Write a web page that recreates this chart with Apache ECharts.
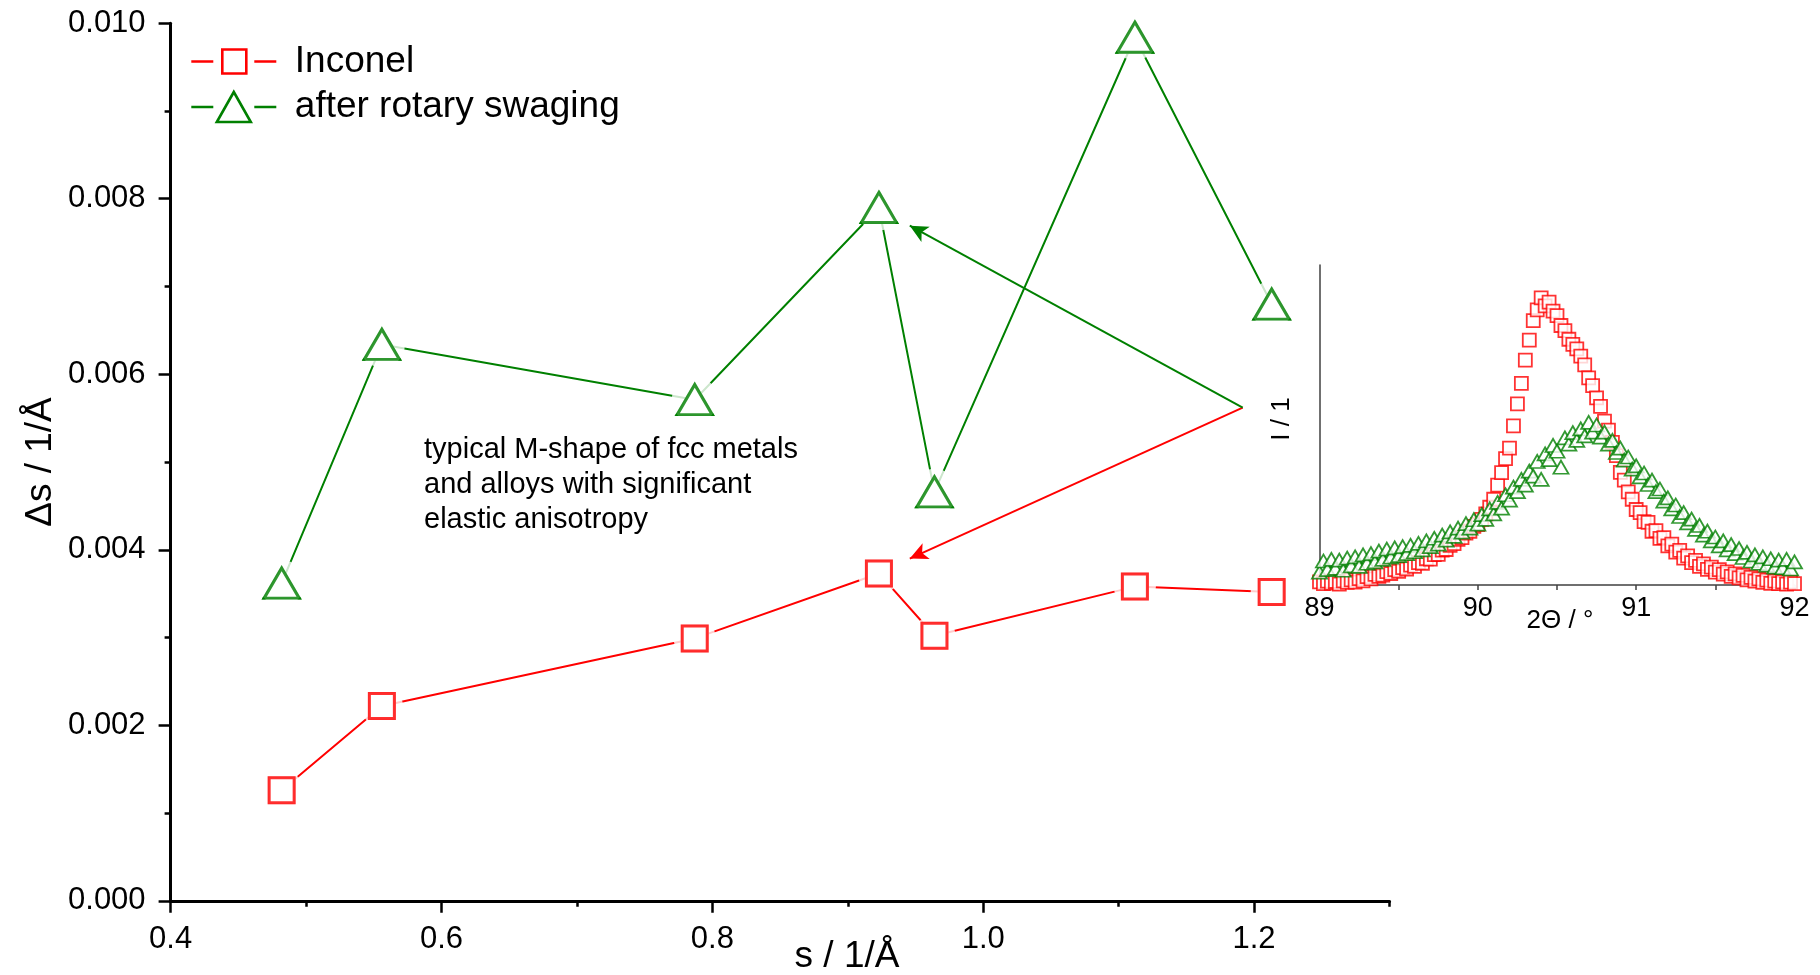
<!DOCTYPE html>
<html>
<head>
<meta charset="utf-8">
<title>Peak broadening of Inconel</title>
<script src="https://cdn.jsdelivr.net/npm/echarts@6/dist/echarts.min.js"></script>
<style>
  html, body { margin: 0; padding: 0; background: #ffffff; }
  #chart { width: 1820px; height: 975px; }
</style>
</head>
<body>
<div id="chart"></div>
<script>
// Reflection positions s = 1/d (1/Å) of the fcc peaks
const reflectionS = [0.482, 0.556, 0.787, 0.923, 0.964, 1.112, 1.213];
// Peak breadth Δs (1/Å)
const inconelDs = [0.00126, 0.00222, 0.00299, 0.00373, 0.00302, 0.00358, 0.00352];
const swagedDs  = [0.00362, 0.00634, 0.00571, 0.00790, 0.00466, 0.00984, 0.00680];

// Axis ticks of the main plot
const sTickValues   = [0.4, 0.6, 0.8, 1.0, 1.2];
const sMinorTicks   = [0.5, 0.7, 0.9, 1.1, 1.3];

// Annotation arrows (data coordinates): common origin and the two targets
const arrowFrom       = [1.1916, 0.005619];
const arrowToSwaged   = [0.9458, 0.007693];
const arrowToInconel  = [0.9458, 0.003900];

// Inset: profile of one reflection, 2Θ scan (°) and normalised intensity
const twoTheta = [
  89.000, 89.025, 89.050, 89.075, 89.100, 89.125, 89.150, 89.175, 89.200, 89.225,
  89.250, 89.275, 89.300, 89.325, 89.350, 89.375, 89.400, 89.425, 89.450, 89.475,
  89.500, 89.525, 89.550, 89.575, 89.600, 89.625, 89.650, 89.675, 89.700, 89.725,
  89.750, 89.775, 89.800, 89.825, 89.850, 89.875, 89.900, 89.925, 89.950, 89.975,
  90.000, 90.025, 90.050, 90.075, 90.100, 90.125, 90.150, 90.175, 90.200, 90.225,
  90.250, 90.275, 90.300, 90.325, 90.350, 90.375, 90.400, 90.425, 90.450, 90.475,
  90.500, 90.525, 90.550, 90.575, 90.600, 90.625, 90.650, 90.675, 90.700, 90.725,
  90.750, 90.775, 90.800, 90.825, 90.850, 90.875, 90.900, 90.925, 90.950, 90.975,
  91.000, 91.025, 91.050, 91.075, 91.100, 91.125, 91.150, 91.175, 91.200, 91.225,
  91.250, 91.275, 91.300, 91.325, 91.350, 91.375, 91.400, 91.425, 91.450, 91.475,
  91.500, 91.525, 91.550, 91.575, 91.600, 91.625, 91.650, 91.675, 91.700, 91.725,
  91.750, 91.775, 91.800, 91.825, 91.850, 91.875, 91.900, 91.925, 91.950, 91.975,
  92.000
];
const inconelI = [
  0.010, 0.004, 0.012, 0.006, 0.011, 0.003, 0.013, 0.008, 0.016, 0.009,
  0.020, 0.013, 0.026, 0.019, 0.033, 0.027, 0.031, 0.042, 0.036, 0.048,
  0.043, 0.054, 0.050, 0.062, 0.058, 0.070, 0.068, 0.082, 0.081, 0.095,
  0.096, 0.109, 0.111, 0.124, 0.129, 0.143, 0.148, 0.162, 0.168, 0.183,
  0.189, 0.205, 0.222, 0.243, 0.268, 0.312, 0.351, 0.395, 0.428, 0.497,
  0.566, 0.630, 0.703, 0.765, 0.826, 0.860, 0.897, 0.872, 0.884, 0.856,
  0.842, 0.811, 0.795, 0.768, 0.752, 0.738, 0.715, 0.688, 0.647, 0.623,
  0.585, 0.558, 0.512, 0.484, 0.446, 0.404, 0.352, 0.328, 0.291, 0.268,
  0.236, 0.226, 0.198, 0.196, 0.168, 0.170, 0.146, 0.148, 0.122, 0.128,
  0.103, 0.108, 0.084, 0.091, 0.070, 0.077, 0.058, 0.066, 0.049, 0.056,
  0.040, 0.048, 0.034, 0.041, 0.027, 0.035, 0.022, 0.030, 0.016, 0.024,
  0.012, 0.019, 0.008, 0.015, 0.005, 0.012, 0.004, 0.010, 0.003, 0.009,
  0.004
];
const swagedI = [
  0.040, 0.075, 0.048, 0.080, 0.052, 0.078, 0.046, 0.084, 0.060, 0.088,
  0.058, 0.094, 0.068, 0.098, 0.072, 0.106, 0.080, 0.112, 0.087, 0.116,
  0.092, 0.120, 0.098, 0.124, 0.104, 0.130, 0.110, 0.138, 0.120, 0.146,
  0.128, 0.156, 0.140, 0.166, 0.152, 0.178, 0.165, 0.192, 0.178, 0.204,
  0.190, 0.220, 0.205, 0.238, 0.222, 0.258, 0.240, 0.282, 0.265, 0.306,
  0.292, 0.330, 0.312, 0.356, 0.340, 0.386, 0.330, 0.410, 0.392, 0.436,
  0.418, 0.368, 0.460, 0.440, 0.476, 0.452, 0.488, 0.466, 0.508, 0.478,
  0.500, 0.462, 0.478, 0.440, 0.452, 0.414, 0.428, 0.390, 0.400, 0.362,
  0.372, 0.338, 0.350, 0.314, 0.328, 0.292, 0.300, 0.262, 0.272, 0.238,
  0.250, 0.214, 0.226, 0.194, 0.206, 0.174, 0.186, 0.156, 0.168, 0.138,
  0.150, 0.122, 0.138, 0.110, 0.126, 0.098, 0.114, 0.086, 0.102, 0.075,
  0.094, 0.068, 0.088, 0.062, 0.082, 0.056, 0.078, 0.054, 0.080, 0.050,
  0.072
];
const thetaTickValues  = [89, 90, 91, 92];
const thetaTickMarks   = [89, 89.5, 90, 90.5, 91, 91.5, 92];

const RED = '#ff0000';
const GREEN = '#008000';
const FONT = '"Liberation Sans", Arial, Helvetica, sans-serif';

// Legend keys: line – open symbol – line, with small gaps around the symbol
const KEY_SQUARE   = 'path://M0,16H22M31,4H55V28H31ZM63,16H85';
const KEY_TRIANGLE = 'path://M0,16H22M42.5,1L59.5,31H25.5ZM63,16H85';

const zip = (xs, ys) => xs.map((x, i) => [x, ys[i]]);
const inconelPts = zip(reflectionS, inconelDs);
const swagedPts  = zip(reflectionS, swagedDs);

const chart = echarts.init(document.getElementById('chart'), null, { renderer: 'canvas' });

const option = {
  backgroundColor: '#ffffff',
  animation: false,
  textStyle: { fontFamily: FONT },
  grid: [
    { left: 170.6, top: 23.2, width: 1218.9, height: 877.6 },
    { left: 1319.5, top: 265, width: 475, height: 320 }
  ],
  legend: {
    data: [
      { name: 'Inconel', icon: KEY_SQUARE,
        itemStyle: { color: 'rgba(0,0,0,0)', borderColor: RED, borderWidth: 2.6 } },
      { name: 'after rotary swaging', icon: KEY_TRIANGLE,
        itemStyle: { color: 'rgba(0,0,0,0)', borderColor: GREEN, borderWidth: 2.6 } }
    ],
    orient: 'vertical',
    left: 185,
    top: 38,
    itemWidth: 85,
    itemHeight: 32,
    itemGap: 8.5,
    selectedMode: false,
    textStyle: { fontSize: 37, color: '#000', fontFamily: FONT, padding: [0, 0, 0, 13.5] }
  },
  xAxis: [
    {
      gridIndex: 0, type: 'value', min: 0.4, max: 1.3,
      axisLine: { show: true, onZero: false, lineStyle: { color: '#000', width: 3 } },
      axisTick: { show: true, customValues: sTickValues, length: 12, lineStyle: { color: '#000', width: 2.5 } },
      axisLabel: {
        customValues: sTickValues, formatter: v => v.toFixed(1),
        fontSize: 31, color: '#000', fontFamily: FONT, margin: 23
      },
      splitLine: { show: false }
    },
    {
      gridIndex: 0, type: 'value', min: 0.4, max: 1.3, position: 'bottom',
      axisLine: { show: false, onZero: false },
      axisTick: { show: true, customValues: sMinorTicks, length: 6, lineStyle: { color: '#000', width: 2.5 } },
      axisLabel: { show: false },
      splitLine: { show: false }
    },
    {
      gridIndex: 1, type: 'value', min: 89, max: 92,
      axisLine: { show: true, onZero: false, lineStyle: { color: '#404040', width: 1.5 } },
      axisTick: { show: true, customValues: thetaTickMarks, length: 5, lineStyle: { color: '#404040', width: 1.5 } },
      axisLabel: {
        customValues: thetaTickValues, formatter: v => String(v),
        fontSize: 27, color: '#000', fontFamily: FONT, margin: 10
      },
      splitLine: { show: false }
    }
  ],
  yAxis: [
    {
      gridIndex: 0, type: 'value', min: 0, max: 0.01, interval: 0.002,
      axisLine: { show: true, onZero: false, lineStyle: { color: '#000', width: 3 } },
      axisTick: { show: true, length: 12, lineStyle: { color: '#000', width: 2.5 } },
      minorTick: { show: true, splitNumber: 2, length: 6, lineStyle: { color: '#000', width: 2.5 } },
      axisLabel: { formatter: v => v.toFixed(3), fontSize: 31, color: '#000', fontFamily: FONT, margin: 25 },
      splitLine: { show: false }
    },
    {
      gridIndex: 1, type: 'value', min: 0, max: 1,
      axisLine: { show: true, onZero: false, lineStyle: { color: '#404040', width: 1.5 } },
      axisTick: { show: false },
      axisLabel: { show: false },
      splitLine: { show: false }
    }
  ],
  graphic: [
    {
      type: 'text', left: 424, top: 432, silent: true,
      style: {
        text: 'typical M-shape of fcc metals\nand alloys with significant\nelastic anisotropy',
        fontSize: 29, fontFamily: FONT, fill: '#000', lineHeight: 35
      }
    },
    {
      type: 'text', x: 847, y: 957, silent: true,
      style: { text: 's / 1/Å', fontSize: 37, fontFamily: FONT, fill: '#000', align: 'center', verticalAlign: 'middle' }
    },
    {
      type: 'text', x: 41, y: 462, rotation: Math.PI / 2, silent: true,
      style: { text: 'Δs / 1/Å', fontSize: 37, fontFamily: FONT, fill: '#000', align: 'center', verticalAlign: 'middle' }
    },
    {
      type: 'text', x: 1282, y: 419, rotation: Math.PI / 2, silent: true,
      style: { text: 'I / 1', fontSize: 26, fontFamily: FONT, fill: '#000', align: 'center', verticalAlign: 'middle' }
    },
    {
      type: 'text', x: 1560, y: 621, silent: true,
      style: { text: '2Θ / °', fontSize: 26, fontFamily: FONT, fill: '#000', align: 'center', verticalAlign: 'middle' }
    }
  ],
  series: [
    // connecting lines
    {
      name: 'Inconel', type: 'line', xAxisIndex: 0, yAxisIndex: 0, data: inconelPts,
      symbol: 'rect', symbolSize: 25, z: 2, silent: true,
      itemStyle: { color: '#fff', borderColor: RED, borderWidth: 3 },
      lineStyle: { color: RED, width: 2 },
      emphasis: { disabled: true }
    },
    {
      name: 'after rotary swaging', type: 'line', xAxisIndex: 0, yAxisIndex: 0, data: swagedPts,
      symbol: 'triangle', symbolSize: [35, 30], z: 2, silent: true,
      itemStyle: { color: '#fff', borderColor: GREEN, borderWidth: 3 },
      lineStyle: { color: GREEN, width: 2 },
      emphasis: { disabled: true }
    },
    // white halos leave a gap between the lines and the markers
    {
      type: 'scatter', xAxisIndex: 0, yAxisIndex: 0, data: inconelPts,
      symbol: 'circle', symbolSize: 42, z: 3, silent: true,
      itemStyle: { color: '#fff' }, emphasis: { disabled: true }
    },
    {
      type: 'scatter', xAxisIndex: 0, yAxisIndex: 0, data: swagedPts,
      symbol: 'circle', symbolSize: 46, z: 3, silent: true,
      itemStyle: { color: '#fff' }, emphasis: { disabled: true }
    },
    // open markers, plus the annotation arrows
    {
      type: 'scatter', xAxisIndex: 0, yAxisIndex: 0, data: inconelPts,
      symbol: 'rect', symbolSize: 25, z: 4, silent: true,
      itemStyle: { color: '#fff', borderColor: RED, borderWidth: 3 },
      emphasis: { disabled: true },
      markLine: {
        silent: true, animation: false,
        symbol: ['none', 'arrow'], symbolSize: [13, 18],
        label: { show: false },
        lineStyle: { color: RED, width: 2, type: 'solid' },
        emphasis: { disabled: true },
        data: [[{ coord: arrowFrom }, { coord: arrowToInconel }]]
      }
    },
    {
      type: 'scatter', xAxisIndex: 0, yAxisIndex: 0, data: swagedPts,
      symbol: 'triangle', symbolSize: [35, 30], z: 4, silent: true,
      itemStyle: { color: '#fff', borderColor: GREEN, borderWidth: 3 },
      emphasis: { disabled: true },
      markLine: {
        silent: true, animation: false,
        symbol: ['none', 'arrow'], symbolSize: [13, 18],
        label: { show: false },
        lineStyle: { color: GREEN, width: 2, type: 'solid' },
        emphasis: { disabled: true },
        data: [[{ coord: arrowFrom }, { coord: arrowToSwaged }]]
      }
    },
    // inset profiles
    {
      type: 'scatter', xAxisIndex: 2, yAxisIndex: 1, data: zip(twoTheta, inconelI),
      symbol: 'rect', symbolSize: 13, z: 2, silent: true,
      itemStyle: { color: '#fff', borderColor: RED, borderWidth: 1.8 },
      emphasis: { disabled: true }
    },
    {
      type: 'scatter', xAxisIndex: 2, yAxisIndex: 1, data: zip(twoTheta, swagedI),
      symbol: 'triangle', symbolSize: [15, 13], z: 3, silent: true,
      itemStyle: { color: '#fff', borderColor: GREEN, borderWidth: 1.8 },
      emphasis: { disabled: true }
    }
  ]
};

chart.setOption(option);
</script>
</body>
</html>
